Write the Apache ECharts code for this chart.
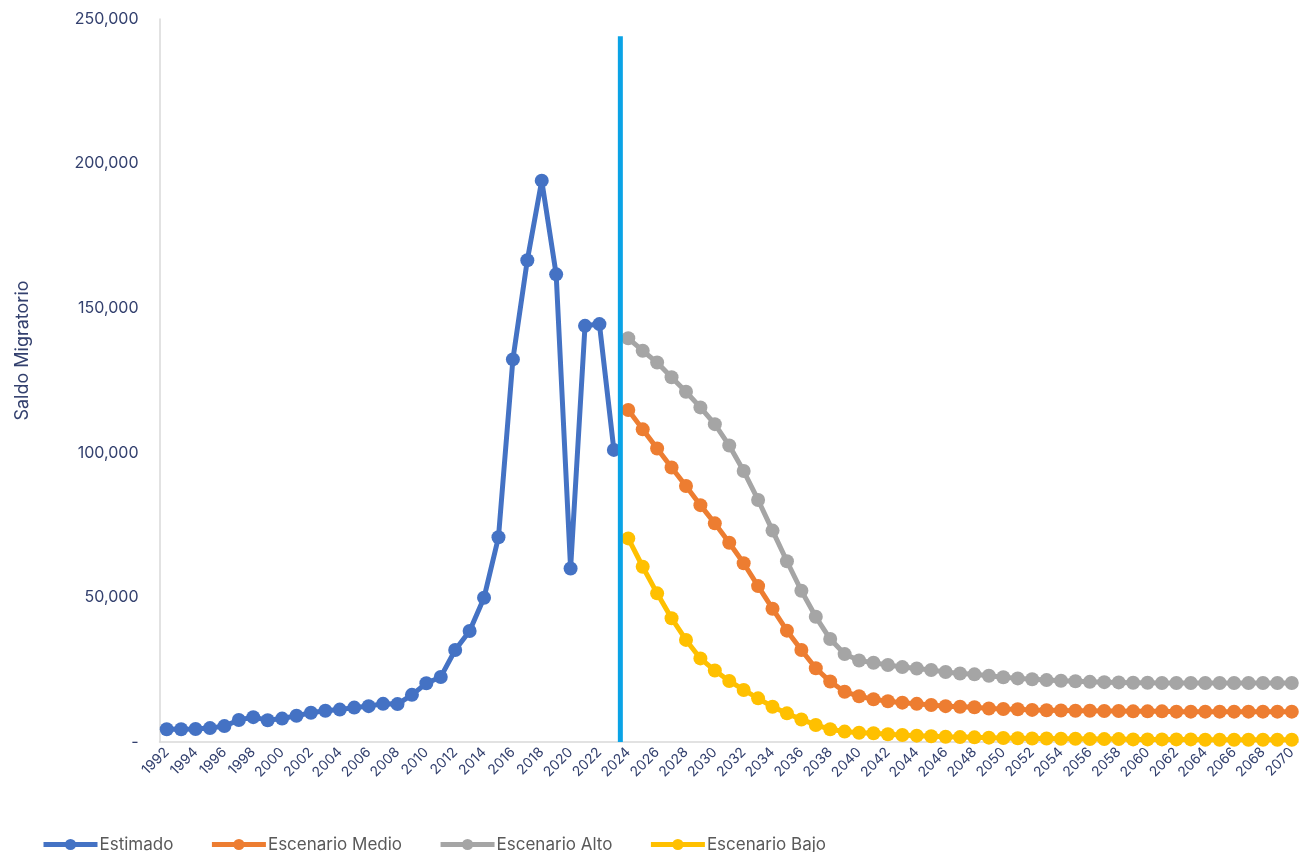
<!DOCTYPE html>
<html>
<head>
<meta charset="utf-8">
<script src="https://cdn.jsdelivr.net/npm/echarts@6/dist/echarts.min.js"></script>
<style>
html,body{margin:0;padding:0;background:#fff;}
#chart{width:1299px;height:852px;}
</style>
</head>
<body>
<div id="chart"></div>
<script>
const years = [];
for (let y = 1992; y <= 2070; y++) years.push(String(y));

const estimado = [4400,4400,4500,4800,5500,7600,8600,7500,8100,9100,10100,10800,11200,11900,12400,13200,13100,16300,20300,22500,31800,38400,49900,70800,132300,166600,194100,161700,60000,143900,144500,101000];

const escenarioAlto = [139600,135300,131200,126100,121100,115700,109900,102500,93700,83700,73100,62500,52300,43300,35600,30400,
28200,27400,26600,25900,25400,24900,24200,23700,23400,22900,22400,22000,21700,21400,21200,21000,20800,20700,20600,20500,20500,
20400,20400,20400,20400,20400,20400,20400,20400,20400,20400];

const escenarioMedio = [114800,108100,101500,94900,88500,81900,75600,68900,61800,53900,46100,38500,31800,25500,20900,17400,
15800,14800,14100,13600,13200,12800,12400,12200,12000,11600,11400,11300,11100,11000,10900,10800,10800,10700,10700,10600,10600,
10600,10500,10500,10500,10500,10500,10500,10500,10500,10500];

const escenarioBajo = [70400,60600,51400,42800,35300,28900,24700,21100,18000,15100,12200,9900,7800,5900,4400,3600,
3200,3000,2700,2400,2200,2000,1800,1700,1600,1500,1400,1300,1200,1200,1100,1100,1000,1000,1000,900,900,
900,900,900,800,800,800,800,800,800,800];

const projStartYear = 2024;
const dividerYear = 2023.45;
const dividerTop = 244000;

const yTicks = [0, 50000, 100000, 150000, 200000, 250000];

function padEstimado(arr) {
  const out = years.map(() => null);
  arr.forEach((v, i) => { out[i] = v; });
  return out;
}
function padProj(arr) {
  const offset = years.indexOf(String(projStartYear));
  const out = years.map(() => null);
  arr.forEach((v, i) => { out[offset + i] = v; });
  return out;
}

const font = 'Inter, "DejaVu Sans", sans-serif';
const navy = '#33406E';

function lineSeries(name, color, data) {
  return {
    name: name,
    type: 'line',
    data: data,
    symbol: 'circle',
    symbolSize: 14,
    showSymbol: true,
    showAllSymbol: true,
    connectNulls: false,
    itemStyle: { color: color },
    lineStyle: { color: color, width: 5 },
    z: 3
  };
}

const chart = echarts.init(document.getElementById('chart'), null, { renderer: 'canvas' });
chart.setOption({
  animation: false,
  backgroundColor: '#ffffff',
  textStyle: { fontFamily: font },
  grid: { left: 159.5, right: 0, top: 19, bottom: 110, containLabel: false },
  legend: {
    data: ['Estimado', 'Escenario Medio', 'Escenario Alto', 'Escenario Bajo'],
    left: 36,
    top: 831,
    itemWidth: 54,
    itemHeight: 14,
    itemGap: 36,
    lineStyle: { width: 5 },
    textStyle: { color: '#595959', fontSize: 17, fontFamily: font, padding: [0, 0, 0, -3] }
  },
  xAxis: [{
    type: 'category',
    data: years,
    boundaryGap: true,
    axisLine: { show: true, lineStyle: { color: '#D9D9D9', width: 1.5 } },
    axisTick: { show: false },
    axisLabel: {
      interval: 1,
      rotate: 45,
      color: navy,
      fontSize: 14,
      margin: 8,
      fontFamily: font
    },
    splitLine: { show: false }
  }, {
    type: 'value',
    min: 1991.5,
    max: 2070.5,
    show: false
  }],
  yAxis: {
    type: 'value',
    min: 0,
    max: 250000,
    interval: 50000,
    name: 'Saldo Migratorio',
    nameLocation: 'middle',
    nameGap: 128,
    nameRotate: 90,
    nameTextStyle: { color: navy, fontSize: 18, fontFamily: font, padding: [0, 0, 0, 60] },
    axisLine: { show: true, lineStyle: { color: '#D9D9D9', width: 1.5 } },
    axisTick: { show: false },
    splitLine: { show: false },
    axisLabel: {
      color: navy,
      fontSize: 16,
      margin: 21,
      fontFamily: font,
      customValues: yTicks,
      formatter: function (v) { return v === 0 ? '-' : v.toLocaleString('en-US'); }
    }
  },
  series: [
    lineSeries('Estimado', '#4472C4', padEstimado(estimado)),
    lineSeries('Escenario Medio', '#ED7D31', padProj(escenarioMedio)),
    lineSeries('Escenario Alto', '#A5A5A5', padProj(escenarioAlto)),
    lineSeries('Escenario Bajo', '#FFC000', padProj(escenarioBajo)),
    {
      name: 'divisor',
      type: 'line',
      xAxisIndex: 1,
      data: [[dividerYear, 0], [dividerYear, dividerTop]],
      symbol: 'none',
      lineStyle: { color: '#0AA3E6', width: 5 },
      silent: true,
      z: 10
    }
  ]
});
</script>
</body>
</html>
